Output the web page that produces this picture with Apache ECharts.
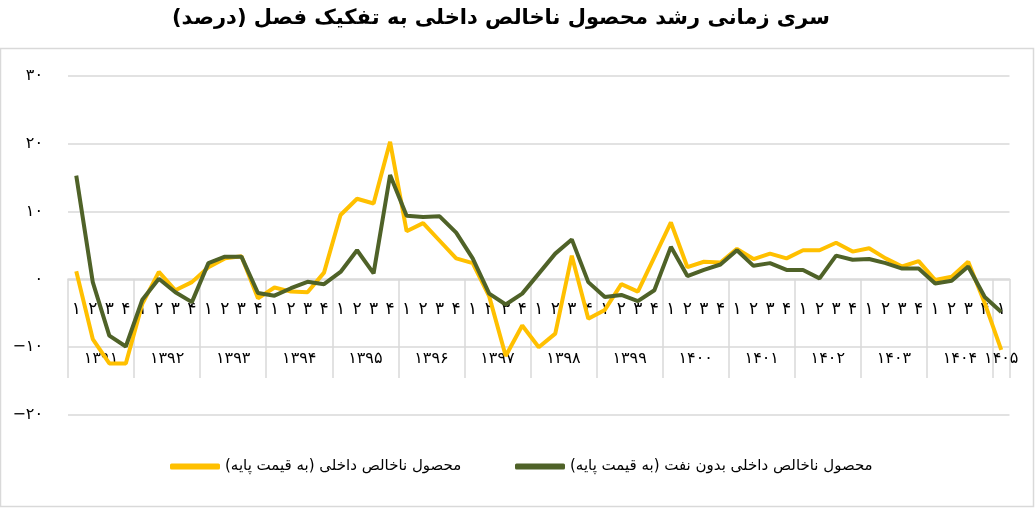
<!DOCTYPE html>
<html>
<head>
<meta charset="utf-8">
<script src="https://cdn.jsdelivr.net/npm/echarts@6/dist/echarts.min.js"></script>
<style>
    html, body { margin: 0; padding: 0; background: #fff; }
    #chart { width: 1036px; height: 509px; }
</style>
</head>
<body>
<div id="chart"></div>
<script>
// سال‌ها و تعداد فصل هر سال
var years = ['1391', '1392', '1393', '1394', '1395', '1396', '1397', '1398', '1399', '1400', '1401', '1402', '1403', '1404', '1405'];
var quarterCount = [4, 4, 4, 4, 4, 4, 4, 4, 4, 4, 4, 4, 4, 4, 1];
var yTicks = [-20, -10, 0, 10, 20, 30];

// محصول ناخالص داخلی (به قیمت پایه)
var gdp = [1.2, -8.8, -12.4, -12.4, -3.6, 1.1, -1.6, -0.4, 1.8, 3.1, 3.4, -2.8,
    -1.2, -1.8, -1.9, 1.0, 9.5, 11.9, 11.2, 20.3, 7.1, 8.3, 5.7, 3.1,
    2.4, -2.5, -11.3, -6.8, -10.0, -8.0, 3.5, -5.8, -4.5, -0.7, -1.8, 3.3,
    8.4, 1.8, 2.6, 2.5, 4.5, 3.0, 3.8, 3.1, 4.3, 4.3, 5.4, 4.1,
    4.6, 3.1, 1.9, 2.7, -0.1, 0.4, 2.6, -3.5, -10.4];
// محصول ناخالص داخلی بدون نفت (به قیمت پایه)
var gdpNonOil = [15.3, -0.4, -8.3, -9.9, -3.0, 0.1, -1.9, -3.35, 2.4, 3.35, 3.35, -2.0,
    -2.4, -1.3, -0.35, -0.7, 1.1, 4.3, 0.9, 15.4, 9.4, 9.2, 9.3, 6.9,
    3.1, -2.1, -3.7, -2.1, 0.85, 3.8, 5.9, -0.4, -2.6, -2.3, -3.2, -1.6,
    4.8, 0.5, 1.4, 2.2, 4.3, 2.0, 2.4, 1.4, 1.4, 0.15, 3.5, 2.9,
    3.0, 2.4, 1.6, 1.6, -0.6, -0.2, 1.9, -2.6, -4.8];

var nameGdp = 'محصول ناخالص داخلی (به قیمت پایه)';
var nameNonOil = 'محصول ناخالص داخلی بدون نفت (به قیمت پایه)';

function fa(s) { //ارقام فارسی
    return String(s).replace(/\d/g, function(d) { return '۰۱۲۳۴۵۶۷۸۹'[d]; }).replace('-', '−');
}

// برچسب فصل‌ها و مرز سال‌ها
var quarterCats = [];
var yearBorder = {};
for (var i = 0; i < years.length; i++) {
    yearBorder[quarterCats.length] = true;
    for (var q = 1; q <= quarterCount[i]; q++) quarterCats.push(fa(q));
}
yearBorder[quarterCats.length] = true;

// محور سال‌ها: نیم‌فصل، تا برچسب سال وسط بازه بیفتد
var yearCats = [];
var pos = 0;
for (var i = 0; i < years.length; i++) {
    var start = pos * 2, end = (pos + quarterCount[i]) * 2;
    for (var j = yearCats.length; j <= end; j++) yearCats.push('');
    yearCats[(start + end) / 2] = fa(years[i]);
    pos += quarterCount[i];
}

var grayLine = '#d9d9d9';
var font = 'DejaVu Sans';

var chart = echarts.init(document.getElementById('chart'));
var option = {
    backgroundColor: '#fff',
    animation: false,
    textStyle: { fontFamily: font },
    title: {
        text: 'سری زمانی رشد محصول ناخالص داخلی به تفکیک فصل (درصد)',
        left: 172,
        top: 8,
        padding: 0,
        textStyle: { fontFamily: font, fontSize: 21, fontWeight: 'bold', color: '#000' }
    },
    graphic: [{
        type: 'rect',
        shape: { x: 0.5, y: 48.5, width: 1033, height: 458 },
        style: { fill: null, stroke: grayLine, lineWidth: 1.5 },
        silent: true
    }],
    legend: [{
        data: [nameGdp],
        left: 165, top: 454,
        icon: 'roundRect', itemWidth: 50, itemHeight: 6,
        textStyle: { fontFamily: font, fontSize: 15, color: '#000' }
    }, {
        data: [nameNonOil],
        left: 510, top: 454,
        icon: 'roundRect', itemWidth: 50, itemHeight: 6,
        textStyle: { fontFamily: font, fontSize: 15, color: '#000' }
    }],
    grid: { left: 68, right: 26.5, top: 76, bottom: 94 },
    xAxis: [{
        type: 'category',
        data: quarterCats,
        boundaryGap: true,
        position: 'bottom',
        offset: -136,
        z: 0,
        axisLine: { show: true, onZero: false, lineStyle: { color: grayLine, width: 1.5 } },
        axisTick: {
            show: true, inside: false, length: 99,
            interval: function(idx) { return !!yearBorder[idx]; },
            lineStyle: { color: grayLine, width: 1.5 }
        },
        axisLabel: { interval: 0, margin: 22, fontSize: 17, color: '#000', fontFamily: font },
        splitLine: { show: false }
    }, {
        type: 'category',
        data: yearCats,
        boundaryGap: false,
        position: 'bottom',
        offset: -37,
        z: 0,
        axisLine: { show: false, onZero: false },
        axisTick: { show: false },
        axisLabel: { inside: true, interval: 0, margin: 11, fontSize: 16, color: '#000', fontFamily: font },
        splitLine: { show: false }
    }],
    yAxis: {
        type: 'value',
        min: yTicks[0],
        max: yTicks[yTicks.length - 1],
        interval: 10,
        axisLine: { show: false },
        axisTick: { show: false },
        axisLabel: { margin: 25, fontSize: 16, color: '#000', fontFamily: font, formatter: function(v) { return fa(v); } },
        splitLine: { lineStyle: { color: grayLine, width: 1.5 } }
    },
    series: [{
        name: nameGdp,
        type: 'line',
        data: gdp,
        xAxisIndex: 0,
        showSymbol: false,
        symbol: 'none',
        z: 3,
        lineStyle: { color: '#FFC000', width: 4 },
        itemStyle: { color: '#FFC000' }
    }, {
        name: nameNonOil,
        type: 'line',
        data: gdpNonOil,
        xAxisIndex: 0,
        showSymbol: false,
        symbol: 'none',
        z: 3,
        lineStyle: { color: '#4F6228', width: 4 },
        itemStyle: { color: '#4F6228' }
    }]
};
chart.setOption(option);
</script>
</body>
</html>
